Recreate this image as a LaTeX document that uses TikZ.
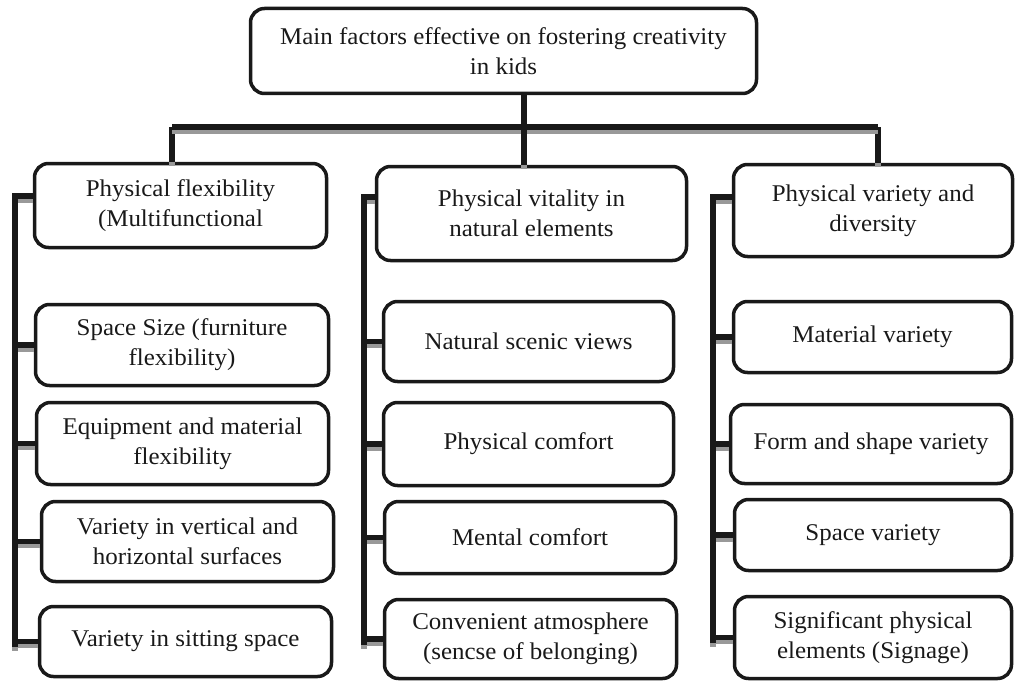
\documentclass[tikz,border=0pt]{standalone}
\usepackage{fontspec}
\setmainfont[FakeStretch=1.04]{Liberation Serif}
\usepackage{tikz}
\usetikzlibrary{calc}

\tikzset{
  factor/.style={draw=black!90, line width=3.5pt, rounded corners=14pt, align=center,
    inner sep=0pt, text=black!90, font=\fontsize{24}{30}\selectfont},
  boxsize/.style 2 args={minimum width=#1pt, minimum height=#2pt},
  link/.style={line width=5.5pt, black!90,
    preaction={draw=black!40, line width=5.5pt, transform canvas={yshift=-4pt}}},
  mainlink/.style={link, line width=6.5pt,
    preaction={draw=black!40, line width=6.5pt, transform canvas={yshift=-4pt}}}
}

\begin{document}
\begin{tikzpicture}[x=1pt,y=-1pt]
\useasboundingbox (0,0) rectangle (1016,682);
% top box
\node[factor, boxsize={506}{85}] (root) at (503.5,51) {Main factors effective on fostering creativity\\in kids};
% three main groups
\node[factor, boxsize={292}{84}] (c1) at (180.5,205.5) {Physical flexibility\\(Multifunctional};
\node[factor, boxsize={310}{94}] (c2) at (531.5,213.5) {Physical vitality in\\natural elements};
\node[factor, boxsize={279}{92}] (c3) at (873,210.5) {Physical variety and\\diversity};
% first column
\node[factor, boxsize={293}{81}] (s11) at (182,345) {Space Size (furniture\\flexibility)};
\node[factor, boxsize={292}{82}] (s12) at (182.5,443.5) {Equipment and material\\flexibility};
\node[factor, boxsize={292}{80}] (s13) at (187.5,541.5) {Variety in vertical and\\horizontal surfaces};
\node[factor, boxsize={292}{70}] (s14) at (185.5,641.5) {Variety in sitting space};
% second column
\node[factor, boxsize={290}{80}] (s21) at (528.5,341.5) {Natural scenic views};
\node[factor, boxsize={290}{83}] (s22) at (528.5,444) {Physical comfort};
\node[factor, boxsize={291}{72}] (s23) at (530,537.5) {Mental comfort};
\node[factor, boxsize={292}{79}] (s24) at (530.5,639) {Convenient atmosphere\\(sencse of belonging)};
% third column
\node[factor, boxsize={278}{71}] (s31) at (872.5,337) {Material variety};
\node[factor, boxsize={281}{79}] (s32) at (871,444) {Form and shape variety};
\node[factor, boxsize={277}{71}] (s33) at (873,535) {Space variety};
\node[factor, boxsize={277}{82}] (s34) at (873,637.5) {Significant physical\\elements (Signage)};

% top connectors
\coordinate (bl) at (172,127);
\coordinate (br) at (878,127);
\coordinate (hub) at (524,127);
\draw[link] (bl |- c1.north) -- (bl);
\draw[link] (br) -- (br |- c3.north);
\draw[mainlink] (bl) -- (br);
\draw[mainlink] (hub |- root.south) -- (hub |- c2.north);

% side rails
\coordinate (r1) at (15,647);
\coordinate (r2) at (364,645);
\coordinate (r3) at (713,643);
\foreach \n in {s11,s12,s13,s14}
  \draw[link] (\n.west) -- (\n.west -| r1);
\foreach \n in {s21,s22,s23,s24}
  \draw[link] (\n.west) -- (\n.west -| r2);
\foreach \n in {s31,s32,s33,s34}
  \draw[link] (\n.west) -- (\n.west -| r3);
\draw[link] ([yshift=-34pt]c1.north west) -| (r1);
\draw[link] ([yshift=-32pt]c2.north west) -| (r2);
\draw[link] ([yshift=-34pt]c3.north west) -| (r3);
\end{tikzpicture}
\end{document}
